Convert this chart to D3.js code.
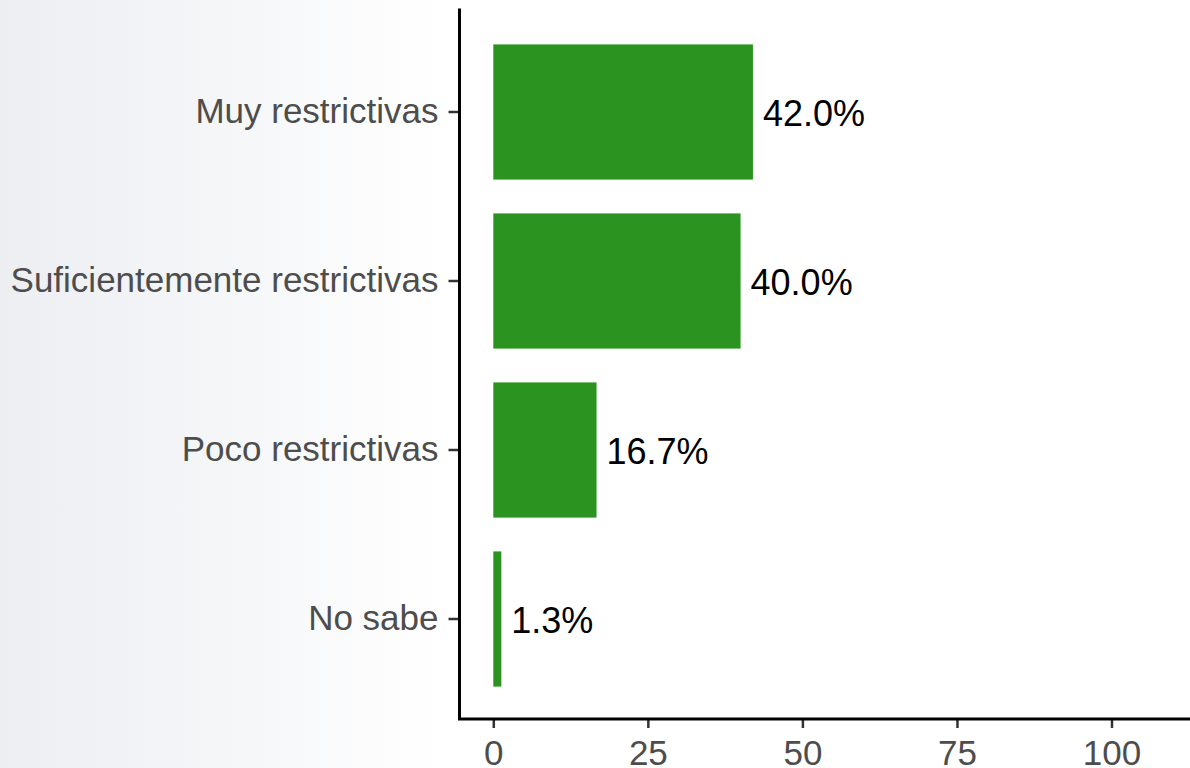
<!DOCTYPE html>
<html>
<head>
<meta charset="utf-8">
<script src="https://cdn.jsdelivr.net/npm/d3@7"></script>
<style>
  html, body { margin: 0; padding: 0; background: #fff; }
  svg { display: block; }
</style>
</head>
<body>
<svg id="chart" width="1190" height="768"></svg>
<script>
const categories = ["Muy restrictivas", "Suficientemente restrictivas", "Poco restrictivas", "No sabe"];
const values = [42.0, 40.0, 16.7, 1.3];
const valueLabels = ["42.0%", "40.0%", "16.7%", "1.3%"];
const xTicks = [0, 25, 50, 75, 100];

const W = 1190, H = 768;
const svg = d3.select("#chart");
const font = "'Liberation Sans', Arial, Helvetica, sans-serif";

// background gradient
const defs = svg.append("defs");
const grad = defs.append("linearGradient").attr("id", "bg").attr("x1", "0").attr("x2", "1").attr("y1", "0").attr("y2", "0");
grad.append("stop").attr("offset", "0").attr("stop-color", "#eceef2");
grad.append("stop").attr("offset", "0.5").attr("stop-color", "#f5f6f8");
grad.append("stop").attr("offset", "1").attr("stop-color", "#ffffff");
svg.append("rect").attr("x", 0).attr("y", 0).attr("width", 440).attr("height", H).attr("fill", "url(#bg)");
svg.append("rect").attr("x", 440).attr("y", 0).attr("width", W - 440).attr("height", H).attr("fill", "#ffffff");

const axisX0 = 459.5, axisY0 = 719;
const x = d3.scaleLinear().domain([0, 100]).range([493.3, 1111.5]);
const y = d3.scaleBand().domain(categories).range([27.5, 703.5]).paddingInner(0.2).paddingOuter(0.1);

// bars
svg.append("g").selectAll("rect").data(categories).join("rect")
  .attr("x", x(0))
  .attr("y", d => y(d))
  .attr("width", (d, i) => x(values[i]) - x(0))
  .attr("height", y.bandwidth())
  .attr("fill", "#2b9421");

// value labels
svg.append("g").selectAll("text").data(categories).join("text")
  .attr("x", (d, i) => x(values[i]) + 10)
  .attr("y", d => y(d) + y.bandwidth() / 2 + 1)
  .attr("dy", "0.35em")
  .attr("font-family", font)
  .attr("font-size", 36)
  .attr("fill", "#000")
  .text((d, i) => valueLabels[i]);

// y axis
const yAxis = svg.append("g").attr("transform", `translate(${axisX0},0)`)
  .call(d3.axisLeft(y).tickSize(11).tickPadding(10));
yAxis.select(".domain").remove();
yAxis.selectAll(".tick line").attr("stroke", "#333").attr("stroke-width", 2.5);
yAxis.selectAll(".tick text").attr("font-family", font).attr("font-size", 35).attr("fill", "#4d4d4d");

// x axis
const xAxis = svg.append("g").attr("transform", `translate(0,${axisY0})`)
  .call(d3.axisBottom(x).tickValues(xTicks).tickSize(9).tickPadding(12).tickFormat(d3.format("d")));
xAxis.select(".domain").remove();
xAxis.selectAll(".tick line").attr("stroke", "#333").attr("stroke-width", 2.5);
xAxis.selectAll(".tick text").attr("font-family", font).attr("font-size", 35).attr("fill", "#4d4d4d");

// axis lines
svg.append("path")
  .attr("d", `M${axisX0},10 V${axisY0} H${W}`)
  .attr("fill", "none")
  .attr("stroke", "#000")
  .attr("stroke-width", 3)
  .attr("stroke-linecap", "square");
</script>
</body>
</html>
